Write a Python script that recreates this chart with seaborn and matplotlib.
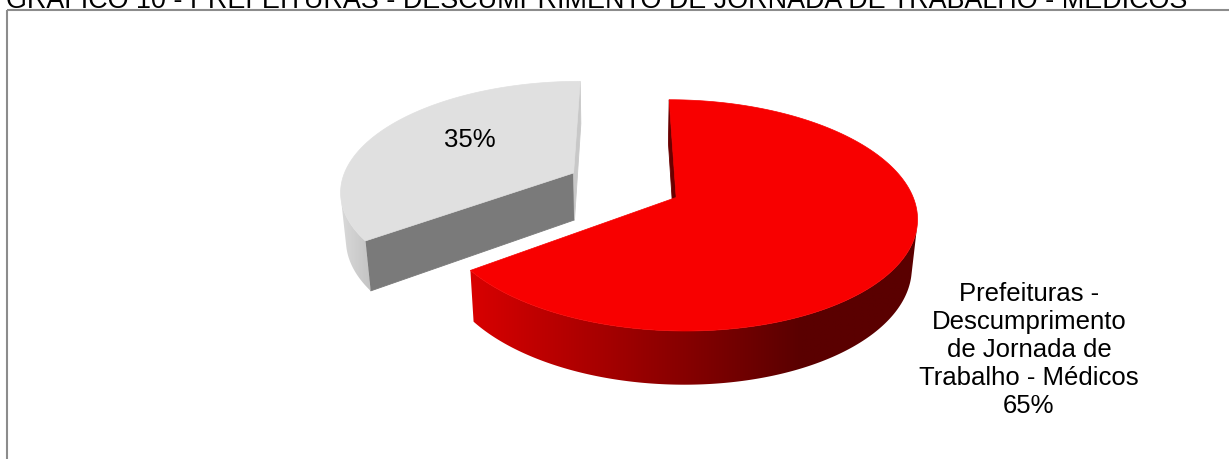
import numpy as np
import matplotlib
matplotlib.use("Agg")
import matplotlib.pyplot as plt
from matplotlib.patches import Polygon
from matplotlib.colors import to_rgb
import seaborn as sns

# Data
categories = ["Prefeituras -\nDescumprimento\nde Jornada de\nTrabalho - Médicos", ""]
values = [65, 35]
title = "GRÁFICO 10 - PREFEITURAS - DESCUMPRIMENTO DE JORNADA DE TRABALHO - MÉDICOS"

sns.set_theme(style="white")
plt.rcParams["font.family"] = ["Liberation Sans", "DejaVu Sans"]

# Slice styling: top face, radial faces, wall gradient (light -> dark)
top_colors = ["#F80000", "#E0E0E0"]
cut_start = ["#6A0000", "#7A7A7A"]
cut_end = ["#6A0000", "#C8C8C8"]
wall_grads = [sns.blend_palette(["#D80000", "#5A0000"], 128),
              sns.blend_palette(["#DADADA", "#C2C2C2"], 128)]
wall_ranges = [(470, 800), (340, 372)]

# 3D view parameters
elev = np.deg2rad(27.9)
dist = 5.8
R = 233.0
cx, cy = 624.0, 185.0
explode = 0.247
thick = 0.235
cam = np.array([0.0, -dist * np.cos(elev), dist * np.sin(elev)])


def project(X, Y, Z):
    w = Y * np.cos(elev) - Z * np.sin(elev)
    u = Y * np.sin(elev) + Z * np.cos(elev)
    s = dist / (dist + w)
    return cx + R * X * s, cy - R * u * s


def visible(normal, point):
    return np.dot(normal, cam - np.asarray(point)) > 0


W, H = 1229, 459
fig = plt.figure(figsize=(W / 100, H / 100), dpi=100)
ax = fig.add_axes([0, 0, 1, 1])

total = float(sum(values))
bounds = np.concatenate([[0], np.cumsum(values)]) / total * 360.0

z = 1
# back slice (gray) first, then front slice (red)
for i in [1, 0]:
    a0, a1 = np.deg2rad(bounds[i]), np.deg2rad(bounds[i + 1])
    mid = 0.5 * (a0 + a1)
    ox, oy = explode * np.sin(mid), explode * np.cos(mid)
    th = np.linspace(a0, a1, 400)
    ex, ey = ox + np.sin(th), oy + np.cos(th)

    # radial cut faces
    for a, n, col in [(a0, np.array([-np.cos(a0), np.sin(a0), 0]), cut_start[i]),
                      (a1, np.array([np.cos(a1), -np.sin(a1), 0]), cut_end[i])]:
        px, py = ox + np.sin(a), oy + np.cos(a)
        if visible(n, [0.5 * (ox + px), 0.5 * (oy + py), -thick / 2]):
            pts = [project(ox, oy, 0), project(px, py, 0),
                   project(px, py, -thick), project(ox, oy, -thick)]
            ax.add_patch(Polygon(pts, closed=True, facecolor=col,
                                 edgecolor=col, lw=0.6, zorder=z))
            z += 1

    # outer wall: visible part, filled with a horizontal shading gradient
    tx, ty = project(ex, ey, 0)
    bx, by = project(ex, ey, -thick)
    vis = np.array([visible(np.array([np.sin(t), np.cos(t), 0]),
                            [ox + np.sin(t), oy + np.cos(t), -thick / 2]) for t in th])
    idx = np.where(vis)[0]
    if len(idx):
        k0, k1 = idx[0], idx[-1] + 1
        poly = list(zip(tx[k0:k1], ty[k0:k1])) + list(zip(bx[k0:k1][::-1], by[k0:k1][::-1]))
        wall = Polygon(poly, closed=True, facecolor="none", edgecolor="none", zorder=z)
        ax.add_patch(wall)
        xs = np.array([p[0] for p in poly])
        ys = np.array([p[1] for p in poly])
        gx = np.linspace(xs.min(), xs.max(), 512)
        lo, hi = wall_ranges[i]
        p = np.clip((gx - lo) / (hi - lo), 0, 1)
        grad = np.array([to_rgb(c) for c in wall_grads[i]])
        img = grad[(p * (len(grad) - 1)).astype(int)][None, :, :]
        im = ax.imshow(img, extent=(xs.min(), xs.max(), ys.max() + 1, ys.min() - 1),
                       aspect="auto", interpolation="bilinear", zorder=z)
        im.set_clip_path(wall)
        z += 1

    # top face
    c0 = project(ox, oy, 0)
    pts = [c0] + list(zip(tx, ty))
    ax.add_patch(Polygon(pts, closed=True, facecolor=top_colors[i],
                         edgecolor=top_colors[i], lw=0.5, zorder=z))
    z += 1

# labels
pct = [f"{v / total * 100:.0f}%" for v in values]
ax.text(470, 140, pct[1], ha="center", va="center", fontsize=18.5,
        color="black", zorder=z)
ax.text(1029, 350, categories[0] + "\n" + pct[0], ha="center", va="center",
        fontsize=18.5, color="black", linespacing=1.22, zorder=z)

# chart frame and heading
ax.plot([7, 7], [H + 2, 10], color="#8c8c8c", lw=1.5, solid_capstyle="butt")
ax.plot([7, W + 2], [10, 10], color="#8c8c8c", lw=1.5, solid_capstyle="butt")
ax.text(6, 7.5, title, ha="left", va="baseline", fontsize=19.35, color="black")

ax.set_xlim(0, W)
ax.set_ylim(H, 0)
ax.axis("off")

fig.savefig("out.png", dpi=100)
